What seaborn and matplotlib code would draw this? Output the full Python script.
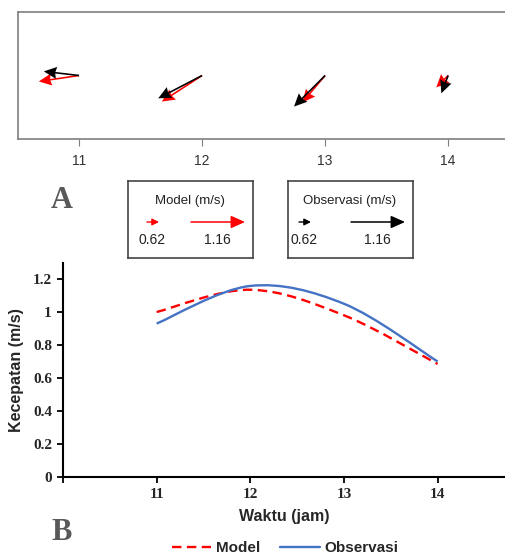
import numpy as np
import matplotlib
matplotlib.use("Agg")
import matplotlib.pyplot as plt
import seaborn as sns
from matplotlib.path import Path
from matplotlib.patches import PathPatch
from matplotlib.lines import Line2D

# data
hours = [11, 12, 13, 14]
# current vectors (m/s), east / north components
model_u = [-0.88, -0.88, -0.50, -0.26]
model_v = [-0.13, -0.57, -0.59, -0.26]
obs_u = [-0.77, -0.96, -0.68, -0.15]
obs_v = [0.09, -0.50, -0.68, -0.39]
# speed (m/s)
model_speed = [1.00, 1.135, 0.98, 0.685]
obs_speed = [0.93, 1.158, 1.05, 0.70]
key_values = ["0.62", "1.16"]

RED = "#ff0000"
BLUE = "#4472C4"
GREY = "#595959"

sns.set_style("ticks")
plt.rcParams["font.family"] = ["Liberation Sans", "DejaVu Sans"]

fig = plt.figure(figsize=(5.06, 5.54), dpi=100)
W, H = 506, 554


def px_axes(x0, y0, x1, y1):
    """Axes placed by pixel box (top-left origin)."""
    return fig.add_axes([x0 / W, 1 - y1 / H, (x1 - x0) / W, (y1 - y0) / H])


def smooth_path(xs, ys):
    """Excel-like smoothed line as cubic Bezier path."""
    pts = np.column_stack([xs, ys]).astype(float)
    n = len(pts)
    verts = [pts[0]]
    codes = [Path.MOVETO]
    for i in range(n - 1):
        p0 = pts[max(i - 1, 0)]
        p1 = pts[i]
        p2 = pts[i + 1]
        p3 = pts[min(i + 2, n - 1)]
        verts += [p1 + (p2 - p0) / 6, p2 - (p3 - p1) / 6, p2]
        codes += [Path.CURVE4] * 3
    return Path(verts, codes)


# ---- panel A: vectors ----
axA = px_axes(18, 12, 506, 139)
axA.set_xlim(10.504, 14.47)
axA.set_ylim(-1, 1)
zeros = np.zeros(len(hours))
qkw = dict(angles="uv", scale_units="inches", scale=1 / 0.457, units="dots",
           width=1.6, headwidth=7.5, headlength=8, headaxislength=7.2)
axA.quiver(hours, zeros, model_u, model_v, color=RED, **qkw)
axA.quiver(hours, zeros, obs_u, obs_v, color="black", **qkw)
axA.set_xticks(hours)
axA.set_xticklabels([str(h) for h in hours], fontsize=10, color="#333333")
axA.set_yticks([])
axA.spines["right"].set_visible(False)
for s in ["left", "top", "bottom"]:
    axA.spines[s].set_color("#7f7f7f")
    axA.spines[s].set_linewidth(1.2)
axA.tick_params(axis="x", length=5, color="#7f7f7f", pad=6)

fig.text(62 / W, 1 - 200 / H, "A", fontsize=22, fontweight="bold",
         family="Liberation Serif", color=GREY, ha="center", va="center")
fig.text(62 / W, 1 - 533 / H, "B", fontsize=22, fontweight="bold",
         family="Liberation Serif", color=GREY, ha="center", va="center")

# ---- key boxes ----
for (x0, title, col, small_x0) in [(128, "Model (m/s)", RED, 19),
                                   (288, "Observasi (m/s)", "black", 11)]:
    k = px_axes(x0, 181, x0 + 125, 258)
    k.set_xlim(0, 125)
    k.set_ylim(77, 0)
    k.set_xticks([])
    k.set_yticks([])
    for s in k.spines.values():
        s.set_color("#444444")
        s.set_linewidth(1.2)
    k.text(62, 20, title, ha="center", va="center", fontsize=9.5, color="#222222")
    k.annotate("", xy=(small_x0 + 12, 41), xytext=(small_x0, 41),
               arrowprops=dict(arrowstyle="-|>,head_length=0.8,head_width=0.4",
                               color=col, lw=1, mutation_scale=5,
                               shrinkA=0, shrinkB=0))
    k.annotate("", xy=(117, 41), xytext=(63, 41),
               arrowprops=dict(arrowstyle="-|>,head_length=0.85,head_width=0.38",
                               color=col, lw=1.1, mutation_scale=10,
                               shrinkA=0, shrinkB=0))
    k.text(small_x0 + 5, 59, key_values[0], ha="center", va="center",
           fontsize=10, color="#222222")
    k.text(89, 59, key_values[1], ha="center", va="center",
           fontsize=10, color="#222222")

# ---- panel B: speed ----
axB = px_axes(63, 263, 506, 477)
axB.set_xlim(10, 14.73)
axB.set_ylim(0, 1.297)
axB.add_patch(PathPatch(smooth_path(hours, model_speed), fill=False,
                        edgecolor=RED, lw=1.7, linestyle=(0, (4, 2.3))))
axB.add_patch(PathPatch(smooth_path(hours, obs_speed), fill=False,
                        edgecolor=BLUE, lw=1.7))
sns.despine(ax=axB)
axB.set_xticks([10] + hours)
axB.set_xticklabels([""] + [str(h) for h in hours])
yt = [0, 0.2, 0.4, 0.6, 0.8, 1.0, 1.2]
axB.set_yticks(yt)
axB.set_yticklabels([f"{v:g}" for v in yt])
for lab in axB.get_xticklabels() + axB.get_yticklabels():
    lab.set_family("Liberation Serif")
    lab.set_fontweight("bold")
    lab.set_fontsize(11)
for s in ["left", "bottom"]:
    axB.spines[s].set_color("black")
    axB.spines[s].set_linewidth(1.5)
axB.tick_params(length=4, width=1.3, color="black", pad=4)
axB.set_xlabel("Waktu (jam)", fontsize=11.5, fontweight="bold", labelpad=6)
axB.set_ylabel("Kecepatan (m/s)", fontsize=11.5, fontweight="bold", labelpad=6)

handles = [Line2D([], [], color=RED, lw=1.7, linestyle=(0, (4, 2.3))),
           Line2D([], [], color=BLUE, lw=1.7)]
fig.legend(handles, ["Model", "Observasi"], loc="center", ncol=2,
           bbox_to_anchor=(285 / W, 1 - 548 / H), frameon=False,
           prop=dict(weight="bold", size=11), handlelength=2.6,
           handletextpad=0.3, columnspacing=1.3)

fig.savefig("out.png", dpi=100)
